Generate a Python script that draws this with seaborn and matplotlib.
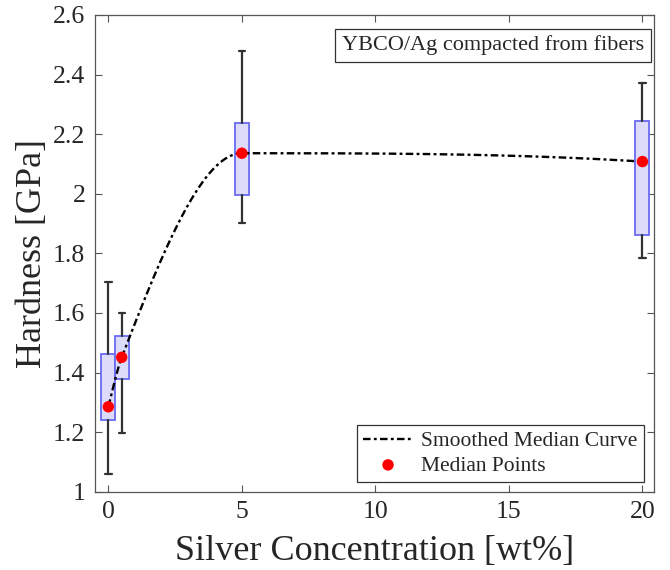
import numpy as np
import pandas as pd
import matplotlib
matplotlib.use("Agg")
import matplotlib.pyplot as plt
import seaborn as sns

# 數據
silver_wt = [0, 0.5, 5, 20]
whisker_low = [1.059, 1.196, 1.903, 1.785]
box_low = [1.241, 1.377, 1.996, 1.862]
median_hv = [1.285, 1.451, 2.136, 2.108]
box_high = [1.461, 1.524, 2.239, 2.245]
whisker_high = [1.705, 1.599, 2.480, 2.371]

x_ticks = [0, 5, 10, 15, 20]
y_ticks = [1, 1.2, 1.4, 1.6, 1.8, 2, 2.2, 2.4, 2.6]
y_ticklabels = ['1', '1.2', '1.4', '1.6', '1.8', '2', '2.2', '2.4', '2.6']

sns.set_style("ticks")
plt.rcParams['font.family'] = ['Liberation Serif', 'DejaVu Serif']


def pchip(xk, yk, xq):
    # shape-preserving piecewise cubic (same as MATLAB pchip)
    xk = np.asarray(xk, float)
    yk = np.asarray(yk, float)
    h = np.diff(xk)
    delta = np.diff(yk) / h
    n = len(xk)
    d = np.zeros(n)
    for k in range(1, n - 1):
        if delta[k - 1] * delta[k] > 0:
            w1 = 2 * h[k] + h[k - 1]
            w2 = h[k] + 2 * h[k - 1]
            d[k] = (w1 + w2) / (w1 / delta[k - 1] + w2 / delta[k])

    def end_slope(h0, h1, d0, d1):
        s = ((2 * h0 + h1) * d0 - h0 * d1) / (h0 + h1)
        if np.sign(s) != np.sign(d0):
            s = 0.0
        elif np.sign(d0) != np.sign(d1) and abs(s) > abs(3 * d0):
            s = 3 * d0
        return s

    d[0] = end_slope(h[0], h[1], delta[0], delta[1])
    d[-1] = end_slope(h[-1], h[-2], delta[-1], delta[-2])

    idx = np.clip(np.searchsorted(xk, xq) - 1, 0, n - 2)
    t = (xq - xk[idx]) / h[idx]
    hh = h[idx]
    h00 = 2 * t**3 - 3 * t**2 + 1
    h10 = t**3 - 2 * t**2 + t
    h01 = -2 * t**3 + 3 * t**2
    h11 = t**3 - t**2
    return h00 * yk[idx] + h10 * hh * d[idx] + h01 * yk[idx + 1] + h11 * hh * d[idx + 1]


fig = plt.figure(figsize=(6.7, 5.7), dpi=100)
ax = fig.add_axes([0.1418, 0.1374, 0.8342, 0.8363])

# 箱形圖 (由摘要統計量)
stats = []
for i in range(len(silver_wt)):
    stats.append({'med': median_hv[i], 'q1': box_low[i], 'q3': box_high[i],
                  'whislo': whisker_low[i], 'whishi': whisker_high[i], 'fliers': []})
ax.bxp(stats, positions=silver_wt, widths=0.52, capwidths=0.24, patch_artist=True,
       showfliers=False, manage_ticks=False,
       boxprops=dict(facecolor='#dcdcfa', edgecolor='#6a6af0', linewidth=1.3),
       whiskerprops=dict(color='#333333', linewidth=1.6),
       capprops=dict(color='#333333', linewidth=1.6),
       medianprops=dict(linewidth=0))

# 平滑中位數曲線
xs = np.linspace(silver_wt[0], silver_wt[-1], 600)
curve = pd.DataFrame({'x': xs, 'y': pchip(silver_wt, median_hv, xs)})
sns.lineplot(data=curve, x='x', y='y', ax=ax, color='black', linewidth=1.7,
             linestyle=(0, (3.2, 1.4, 1.2, 1.4)), label='Smoothed Median Curve', zorder=4)

med_df = pd.DataFrame({'x': silver_wt, 'y': median_hv})
sns.scatterplot(data=med_df, x='x', y='y', ax=ax, color='#ff0000', s=68,
                edgecolor='none', label='Median Points', zorder=5)

ax.set_xlim(-0.5, 20.43)
ax.set_ylim(1, 2.6)
ax.set_xticks(x_ticks)
ax.set_yticks(y_ticks)
ax.set_yticklabels(y_ticklabels)
ax.tick_params(direction='in', top=True, right=True, labelsize=18.5,
               length=5, width=0.8, color='#555555', pad=7)
for sp in ax.spines.values():
    sp.set_color('#555555')
    sp.set_linewidth(0.9)

ax.set_xlabel('Silver Concentration [wt%]', fontsize=26, labelpad=8)
ax.set_ylabel('Hardness [GPa]', fontsize=26, labelpad=3)

leg = ax.legend(loc='lower right', fontsize=15.5, frameon=True, fancybox=False,
                framealpha=1, edgecolor='#333333', handlelength=2.3,
                borderaxespad=0.45, borderpad=0.3, labelspacing=0.2, handletextpad=0.4)
leg.get_frame().set_linewidth(0.9)

ax.text(0.982, 0.957, 'YBCO/Ag compacted from fibers', transform=ax.transAxes,
        ha='right', va='top', fontsize=16,
        bbox=dict(boxstyle='square,pad=0.3', facecolor='white', edgecolor='#333333', linewidth=0.9))

plt.savefig('out.png', dpi=100)
